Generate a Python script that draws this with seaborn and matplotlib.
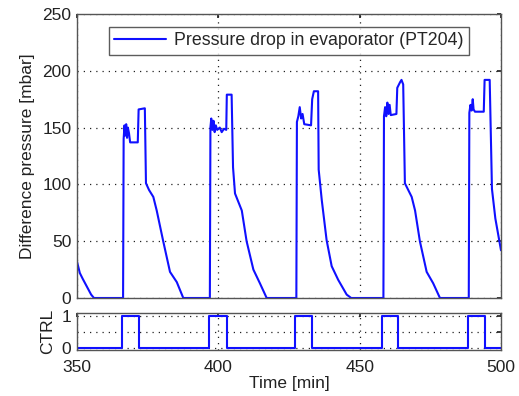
import numpy as np
import pandas as pd
import matplotlib
matplotlib.use("Agg")
import matplotlib.pyplot as plt
import seaborn as sns

# ---- data ----
time_p = [350, 351, 352, 353.5, 355, 356,
          366.3, 366.5, 366.8, 367.1, 367.4, 367.7, 368.0, 368.4, 368.8, 371.5, 371.8, 374.0,
          374.4, 375.5, 377.0, 378.2, 380.5, 382.9, 385.3, 387.6, 397.0,
          397.2, 397.5, 397.9, 398.3, 398.7, 399.1, 399.6, 400.5, 401.2, 402.0, 402.8, 403.0, 404.7,
          405.2, 405.9, 408.3, 410.0, 412.4, 414.7, 417.1, 427.6,
          427.8, 428.3, 428.8, 429.3, 429.8, 430.4, 432.8, 433.2, 433.8, 435.3,
          435.5, 436.6, 438.3, 440.1, 442.4, 445.4, 447.0, 458.4,
          458.6, 459.0, 459.4, 459.8, 460.2, 460.6, 461.0, 463.0, 463.3, 464.3, 464.8, 465.4,
          466.0, 468.4, 469.6, 471.3, 473.7, 476.0, 478.4, 488.6,
          488.8, 489.2, 489.6, 490.0, 490.3, 490.8, 493.9, 494.2, 496.0,
          496.8, 498.0, 500.0]
pressure = [32, 22, 17, 10, 3, 0,
            0, 140, 152, 143, 153, 141, 150, 145, 137, 137, 166, 167,
            101, 95, 89, 77, 50, 23, 14, 0, 0,
            150, 158, 148, 156, 146, 152, 148, 150, 146, 149, 148, 179, 179,
            115, 92, 77, 50, 25, 13, 0, 0,
            155, 160, 168, 158, 162, 153, 152, 175, 182, 182,
            113, 86, 51, 28, 16, 3, 0, 0,
            160, 168, 160, 172, 162, 170, 161, 162, 185, 190, 192, 188,
            101, 89, 77, 50, 23, 13, 0, 0,
            163, 170, 165, 175, 166, 164, 164, 192, 192,
            96, 70, 42]

time_c = [350, 365.9, 365.9, 372.0, 372.0, 396.6, 396.6, 402.9, 402.9,
          427.1, 427.1, 433.2, 433.2, 457.8, 457.8, 463.7, 463.7,
          488.2, 488.2, 494.3, 494.3, 500]
ctrl = [0, 0, 1, 1, 0, 0, 1, 1, 0,
        0, 1, 1, 0, 0, 1, 1, 0,
        0, 1, 1, 0, 0]

legend_label = "Pressure drop in evaporator (PT204)"

df_p = pd.DataFrame({"t": time_p, "p": pressure})
df_c = pd.DataFrame({"t": time_c, "c": ctrl})

sns.set_theme(style="white")
plt.rcParams["font.family"] = ["Liberation Sans", "DejaVu Sans"]
FS = 12.5

fig = plt.figure(figsize=(5.19, 3.96), dpi=100)
L, R = 77 / 519, 501 / 519
ax1 = fig.add_axes([L, 1 - 298 / 396, R - L, (298 - 14) / 396])
ax2 = fig.add_axes([L, 1 - 350 / 396, R - L, (350 - 313) / 396])

blue = "#1010ff"
sns.lineplot(data=df_p, x="t", y="p", ax=ax1, color=blue, lw=1.5,
             label=legend_label, sort=False, estimator=None)
sns.lineplot(data=df_c, x="t", y="c", ax=ax2, color=blue, lw=1.5,
             sort=False, estimator=None, legend=False)

for ax in (ax1, ax2):
    ax.set_xlim(350, 500)
    ax.set_xticks([350, 400, 450, 500])
    ax.grid(True, linestyle=(0, (1, 4)), color="#222222", lw=0.9)
    ax.tick_params(direction="in", length=3, top=True, right=True,
                   labelsize=FS, colors="#222222", pad=4)
    for s in ax.spines.values():
        s.set_color("#555555")
        s.set_linewidth(1.0)

ax1.set_ylim(0, 250)
ax1.set_yticks([0, 50, 100, 150, 200, 250])
ax1.set_xticklabels([])
ax1.set_xlabel("")
ax1.set_ylabel("Difference pressure [mbar]", fontsize=FS, color="#222222", labelpad=5)

ax2.set_ylim(-0.07, 1.08)
ax2.set_yticks([0, 0.5, 1])
ax2.set_yticklabels(["0", "", "1"])
ax2.tick_params(axis="x", pad=7)
ax2.set_xlabel("Time [min]", fontsize=FS, color="#222222", labelpad=1)
ax2.set_ylabel("CTRL", fontsize=FS, color="#222222", labelpad=5)

leg = ax1.legend(loc="upper center", bbox_to_anchor=(0.5, 0.985), frameon=True,
                 fancybox=False, edgecolor="#333333", fontsize=12.8,
                 handlelength=2.9, handletextpad=0.45, borderpad=0.3)
leg.get_frame().set_linewidth(1.0)

fig.savefig("out.png", dpi=100)
